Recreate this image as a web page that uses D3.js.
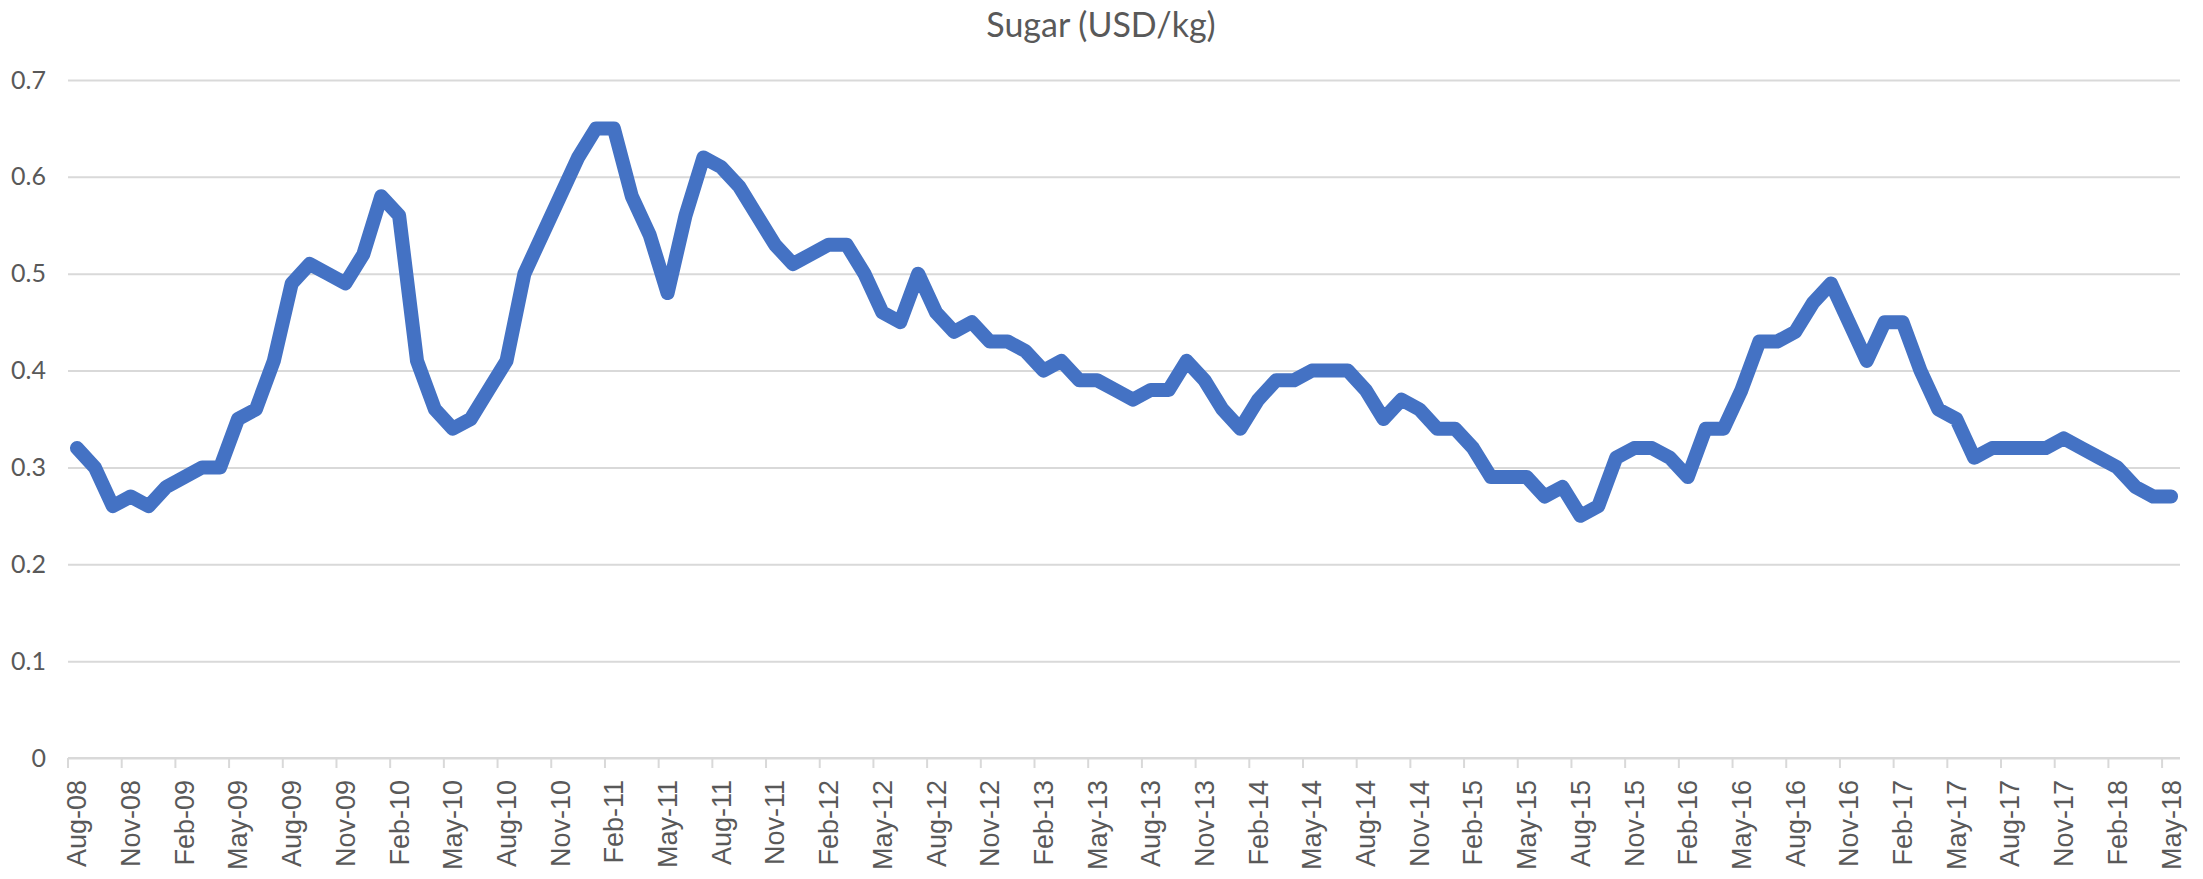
<!DOCTYPE html>
<html>
<head>
<meta charset="utf-8">
<script src="https://cdn.jsdelivr.net/npm/d3@7"></script>
<style>
  body { margin: 0; background: #fff; }
  svg { display: block; }
</style>
</head>
<body>
<svg id="chart"></svg>
<script>
var W = 2203, H = 879;

var title = 'Sugar (USD/kg)';

// monthly categories Aug-08 .. May-18
var firstMonth = new Date(2008, 7, 1);
var endMonth = new Date(2018, 5, 1);
var months = d3.timeMonth.range(firstMonth, endMonth);
var fmtMonth = d3.timeFormat('%b-%y');

// price per month, one row per year
var price = [
  0.32, 0.30, 0.26, 0.27, 0.26,                                            // 2008 (Aug-Dec)
  0.28, 0.29, 0.30, 0.30, 0.35, 0.36, 0.41, 0.49, 0.51, 0.50, 0.49, 0.52,  // 2009
  0.58, 0.56, 0.41, 0.36, 0.34, 0.35, 0.38, 0.41, 0.50, 0.54, 0.58, 0.62,  // 2010
  0.65, 0.65, 0.58, 0.54, 0.48, 0.56, 0.62, 0.61, 0.59, 0.56, 0.53, 0.51,  // 2011
  0.52, 0.53, 0.53, 0.50, 0.46, 0.45, 0.50, 0.46, 0.44, 0.45, 0.43, 0.43,  // 2012
  0.42, 0.40, 0.41, 0.39, 0.39, 0.38, 0.37, 0.38, 0.38, 0.41, 0.39, 0.36,  // 2013
  0.34, 0.37, 0.39, 0.39, 0.40, 0.40, 0.40, 0.38, 0.35, 0.37, 0.36, 0.34,  // 2014
  0.34, 0.32, 0.29, 0.29, 0.29, 0.27, 0.28, 0.25, 0.26, 0.31, 0.32, 0.32,  // 2015
  0.31, 0.29, 0.34, 0.34, 0.38, 0.43, 0.43, 0.44, 0.47, 0.49, 0.45, 0.41,  // 2016
  0.45, 0.45, 0.40, 0.36, 0.35, 0.31, 0.32, 0.32, 0.32, 0.32, 0.33, 0.32,  // 2017
  0.31, 0.30, 0.28, 0.27, 0.27                                             // 2018 (Jan-May)
];

var yTicks = [0, 0.1, 0.2, 0.3, 0.4, 0.5, 0.6, 0.7];

var data = months.map(function(m, i) { return {label: fmtMonth(m), value: price[i]}; });

var margin = {left: 68, right: 23, top: 80, bottom: 121};

var svg = d3.select('#chart')
  .attr('width', W)
  .attr('height', H);

var x = d3.scaleBand()
  .domain(data.map(function(d) { return d.label; }))
  .range([margin.left, W - margin.right])
  .padding(0);

var y = d3.scaleLinear()
  .domain([0, 0.7])
  .range([H - margin.bottom, margin.top]);

// gridlines + y labels
var yAxis = svg.append('g')
  .attr('transform', 'translate(' + margin.left + ',0)')
  .call(d3.axisLeft(y)
    .tickValues(yTicks)
    .tickSize(-(W - margin.left - margin.right))
    .tickPadding(22)
    .tickFormat(function(d) { return d === 0 ? '0' : d3.format('.1f')(d); }));

yAxis.select('.domain').remove();
yAxis.selectAll('.tick line')
  .attr('stroke', '#d9d9d9')
  .attr('stroke-width', 2);
yAxis.selectAll('.tick text')
  .attr('fill', '#595959')
  .style('font-family', 'Lato, "Open Sans", sans-serif')
  .style('font-size', '25px');

// category axis: ticks every 3 months on the category boundaries
var every3 = data.filter(function(d, i) { return i % 3 === 0; });
var xAxis = svg.append('g');

xAxis.append('line')
  .attr('x1', margin.left)
  .attr('x2', W - margin.right)
  .attr('y1', y(0))
  .attr('y2', y(0))
  .attr('stroke', '#d9d9d9')
  .attr('stroke-width', 2);

xAxis.selectAll('line.tk')
  .data(every3)
  .enter().append('line')
  .attr('class', 'tk')
  .attr('x1', function(d) { return x(d.label); })
  .attr('x2', function(d) { return x(d.label); })
  .attr('y1', y(0))
  .attr('y2', y(0) + 10)
  .attr('stroke', '#d9d9d9')
  .attr('stroke-width', 2);

xAxis.selectAll('text')
  .data(every3)
  .enter().append('text')
  .attr('transform', function(d) {
    return 'translate(' + (x(d.label) + x.bandwidth() / 2) + ',' + (y(0) + 22) + ') rotate(-90)';
  })
  .attr('text-anchor', 'end')
  .attr('dy', '0.35em')
  .attr('fill', '#595959')
  .style('font-family', '"Liberation Sans", Arial, sans-serif')
  .style('font-size', '27px')
  .text(function(d) { return d.label; });

// the line
var line = d3.line()
  .x(function(d) { return x(d.label) + x.bandwidth() / 2; })
  .y(function(d) { return y(d.value); });

svg.append('path')
  .datum(data)
  .attr('d', line)
  .attr('fill', 'none')
  .attr('stroke', '#4472c4')
  .attr('stroke-width', 14)
  .attr('stroke-linejoin', 'round')
  .attr('stroke-linecap', 'round');

svg.append('text')
  .attr('x', 1101)
  .attr('y', 37)
  .attr('text-anchor', 'middle')
  .attr('fill', '#595959')
  .style('font-family', 'Lato, "Open Sans", sans-serif')
  .style('font-size', '34px')
  .text(title);
</script>
</body>
</html>
